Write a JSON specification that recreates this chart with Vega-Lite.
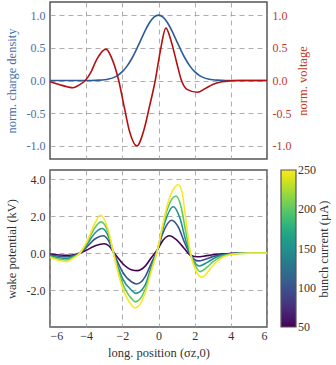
{
 "$schema": "https://vega.github.io/schema/vega-lite/v6.json",
 "padding": {"left": 4, "top": 1, "right": 2, "bottom": 4},
 "background": "white",
 "config": {
  "font": "Liberation Serif",
  "view": {"stroke": "#555", "strokeWidth": 1.5},
  "axis": {"labelFont": "Liberation Serif", "titleFont": "Liberation Serif", "labelFontSize": 12, "titleFontSize": 12.5, "titleFontWeight": "normal", "domain": false, "gridDash": [5, 4], "gridColor": "#999", "gridWidth": 0.8, "ticks": false, "labelPadding": 5, "labelColor": "#333", "titleColor": "#333", "titlePadding": 8},
  "legend": {"gradientLength": 157, "gradientThickness": 15, "titleOrient": "right", "titlePadding": 2, "offset": 10, "labelFont": "Liberation Serif", "titleFont": "Liberation Serif", "labelFontSize": 12, "titleFontSize": 12.5, "titleFontWeight": "normal", "gradientStrokeColor": "#555", "gradientStrokeWidth": 1.2, "labelColor": "#333", "titleColor": "#333", "labelOffset": 4},
  "concat": {"spacing": 9}
 },
 "resolve": {"legend": {"color": "independent"}},
 "datasets": {
  "rho": [
   {"x": -6, "y": 0}, {"x": -4.5, "y": 0}, {"x": -4, "y": 0.0003}, {"x": -3.75, "y": 0.0009}, {"x": -3.5, "y": 0.0022}, {"x": -3.25, "y": 0.0051}, {"x": -3, "y": 0.0111}, {"x": -2.75, "y": 0.0228}, {"x": -2.5, "y": 0.0439}, {"x": -2.25, "y": 0.0796}, {"x": -2, "y": 0.1353}, {"x": -1.75, "y": 0.2163}, {"x": -1.5, "y": 0.3247}, {"x": -1.25, "y": 0.4578}, {"x": -1, "y": 0.6065}, {"x": -0.75, "y": 0.7548}, {"x": -0.5, "y": 0.8825}, {"x": -0.25, "y": 0.9692}, {"x": 0, "y": 1},
   {"x": 0.25, "y": 0.9692}, {"x": 0.5, "y": 0.8825}, {"x": 0.75, "y": 0.7548}, {"x": 1, "y": 0.6065}, {"x": 1.25, "y": 0.4578}, {"x": 1.5, "y": 0.3247}, {"x": 1.75, "y": 0.2163}, {"x": 2, "y": 0.1353}, {"x": 2.25, "y": 0.0796}, {"x": 2.5, "y": 0.0439}, {"x": 2.75, "y": 0.0228}, {"x": 3, "y": 0.0111}, {"x": 3.25, "y": 0.0051}, {"x": 3.5, "y": 0.0022}, {"x": 3.75, "y": 0.0009}, {"x": 4, "y": 0.0003}, {"x": 4.5, "y": 0}, {"x": 6, "y": 0}
  ],
  "volt": [
   {"x": -6, "y": -0.02}, {"x": -5.5, "y": -0.06}, {"x": -5.0, "y": -0.1}, {"x": -4.73, "y": -0.11}, {"x": -4.4, "y": -0.07}, {"x": -4.05, "y": 0.0}, {"x": -3.75, "y": 0.12}, {"x": -3.4, "y": 0.33}, {"x": -2.9, "y": 0.48}, {"x": -2.6, "y": 0.35}, {"x": -2.2, "y": 0.0}, {"x": -1.9, "y": -0.4}, {"x": -1.6, "y": -0.78}, {"x": -1.2, "y": -1.0}, {"x": -0.8, "y": -0.75}, {"x": -0.5, "y": -0.4}, {"x": -0.18, "y": 0.0}, {"x": 0.1, "y": 0.45}, {"x": 0.41, "y": 0.8}, {"x": 0.7, "y": 0.6}, {"x": 1.0, "y": 0.28}, {"x": 1.27, "y": 0.0}, {"x": 1.6, "y": -0.14}, {"x": 2.15, "y": -0.18}, {"x": 2.6, "y": -0.12}, {"x": 3.0, "y": -0.06}, {"x": 3.5, "y": -0.02}, {"x": 4.0, "y": -0.005}, {"x": 4.5, "y": 0}, {"x": 6, "y": 0}
  ],
  "wake": [
   {"I": 50, "x": -6, "w": -0.05}, {"I": 50, "x": -5.5, "w": -0.1}, {"I": 50, "x": -5.0, "w": -0.12}, {"I": 50, "x": -4.7, "w": -0.09}, {"I": 50, "x": -4.35, "w": 0}, {"I": 50, "x": -4.0, "w": 0.15}, {"I": 50, "x": -3.5, "w": 0.4}, {"I": 50, "x": -3.0, "w": 0.51}, {"I": 50, "x": -2.75, "w": 0.4}, {"I": 50, "x": -2.5, "w": 0.08}, {"I": 50, "x": -2.25, "w": -0.25}, {"I": 50, "x": -2.0, "w": -0.55}, {"I": 50, "x": -1.5, "w": -0.9}, {"I": 50, "x": -1.17, "w": -0.95}, {"I": 50, "x": -0.75, "w": -0.72}, {"I": 50, "x": -0.4, "w": -0.25}, {"I": 50, "x": -0.05, "w": 0.2}, {"I": 50, "x": 0.25, "w": 0.7}, {"I": 50, "x": 0.6, "w": 0.94}, {"I": 50, "x": 1.0, "w": 0.72}, {"I": 50, "x": 1.4, "w": 0.28}, {"I": 50, "x": 1.8, "w": -0.13}, {"I": 50, "x": 2.15, "w": -0.2}, {"I": 50, "x": 2.6, "w": -0.15}, {"I": 50, "x": 3.0, "w": -0.09}, {"I": 50, "x": 3.5, "w": -0.04}, {"I": 50, "x": 4.0, "w": -0.015}, {"I": 50, "x": 4.5, "w": 0}, {"I": 50, "x": 6, "w": 0},
   {"I": 100, "x": -6, "w": -0.1}, {"I": 100, "x": -5.5, "w": -0.17}, {"I": 100, "x": -5.05, "w": -0.2}, {"I": 100, "x": -4.7, "w": -0.13}, {"I": 100, "x": -4.35, "w": 0}, {"I": 100, "x": -4.0, "w": 0.3}, {"I": 100, "x": -3.5, "w": 0.78}, {"I": 100, "x": -3.07, "w": 0.94}, {"I": 100, "x": -2.75, "w": 0.65}, {"I": 100, "x": -2.5, "w": 0.07}, {"I": 100, "x": -2.25, "w": -0.5}, {"I": 100, "x": -2.0, "w": -1.0}, {"I": 100, "x": -1.5, "w": -1.55}, {"I": 100, "x": -1.22, "w": -1.67}, {"I": 100, "x": -0.75, "w": -1.3}, {"I": 100, "x": -0.4, "w": -0.55}, {"I": 100, "x": -0.05, "w": 0.2}, {"I": 100, "x": 0.25, "w": 1.1}, {"I": 100, "x": 0.73, "w": 1.78}, {"I": 100, "x": 1.1, "w": 1.4}, {"I": 100, "x": 1.45, "w": 0.55}, {"I": 100, "x": 1.8, "w": -0.14}, {"I": 100, "x": 2.2, "w": -0.42}, {"I": 100, "x": 2.6, "w": -0.33}, {"I": 100, "x": 3.0, "w": -0.19}, {"I": 100, "x": 3.5, "w": -0.08}, {"I": 100, "x": 4.0, "w": -0.03}, {"I": 100, "x": 4.5, "w": 0}, {"I": 100, "x": 6, "w": 0},
   {"I": 150, "x": -6, "w": -0.14}, {"I": 150, "x": -5.5, "w": -0.25}, {"I": 150, "x": -5.05, "w": -0.29}, {"I": 150, "x": -4.7, "w": -0.18}, {"I": 150, "x": -4.35, "w": 0}, {"I": 150, "x": -4.0, "w": 0.4}, {"I": 150, "x": -3.5, "w": 1.1}, {"I": 150, "x": -3.12, "w": 1.33}, {"I": 150, "x": -2.75, "w": 0.85}, {"I": 150, "x": -2.5, "w": 0.06}, {"I": 150, "x": -2.25, "w": -0.7}, {"I": 150, "x": -2.0, "w": -1.35}, {"I": 150, "x": -1.5, "w": -2.0}, {"I": 150, "x": -1.25, "w": -2.18}, {"I": 150, "x": -0.75, "w": -1.75}, {"I": 150, "x": -0.4, "w": -0.75}, {"I": 150, "x": -0.05, "w": 0.2}, {"I": 150, "x": 0.25, "w": 1.35}, {"I": 150, "x": 0.82, "w": 2.51}, {"I": 150, "x": 1.2, "w": 1.85}, {"I": 150, "x": 1.5, "w": 0.7}, {"I": 150, "x": 1.8, "w": -0.15}, {"I": 150, "x": 2.25, "w": -0.7}, {"I": 150, "x": 2.7, "w": -0.5}, {"I": 150, "x": 3.0, "w": -0.32}, {"I": 150, "x": 3.5, "w": -0.12}, {"I": 150, "x": 4.0, "w": -0.04}, {"I": 150, "x": 4.5, "w": -0.01}, {"I": 150, "x": 5.0, "w": 0}, {"I": 150, "x": 6, "w": 0},
   {"I": 200, "x": -6, "w": -0.18}, {"I": 200, "x": -5.5, "w": -0.32}, {"I": 200, "x": -5.1, "w": -0.37}, {"I": 200, "x": -4.7, "w": -0.22}, {"I": 200, "x": -4.35, "w": 0}, {"I": 200, "x": -4.0, "w": 0.48}, {"I": 200, "x": -3.5, "w": 1.4}, {"I": 200, "x": -3.18, "w": 1.69}, {"I": 200, "x": -2.75, "w": 1.02}, {"I": 200, "x": -2.5, "w": 0.05}, {"I": 200, "x": -2.25, "w": -0.85}, {"I": 200, "x": -2.0, "w": -1.6}, {"I": 200, "x": -1.5, "w": -2.45}, {"I": 200, "x": -1.28, "w": -2.64}, {"I": 200, "x": -0.75, "w": -2.0}, {"I": 200, "x": -0.4, "w": -0.9}, {"I": 200, "x": -0.05, "w": 0.2}, {"I": 200, "x": 0.25, "w": 1.5}, {"I": 200, "x": 0.5, "w": 2.4}, {"I": 200, "x": 0.97, "w": 3.09}, {"I": 200, "x": 1.25, "w": 2.5}, {"I": 200, "x": 1.5, "w": 1.2}, {"I": 200, "x": 1.8, "w": -0.15}, {"I": 200, "x": 2.0, "w": -0.6}, {"I": 200, "x": 2.3, "w": -1.0}, {"I": 200, "x": 2.7, "w": -0.75}, {"I": 200, "x": 3.0, "w": -0.48}, {"I": 200, "x": 3.5, "w": -0.18}, {"I": 200, "x": 4.0, "w": -0.06}, {"I": 200, "x": 4.5, "w": -0.015}, {"I": 200, "x": 5.0, "w": 0}, {"I": 200, "x": 6, "w": 0},
   {"I": 250, "x": -6, "w": -0.22}, {"I": 250, "x": -5.5, "w": -0.4}, {"I": 250, "x": -5.1, "w": -0.46}, {"I": 250, "x": -4.7, "w": -0.27}, {"I": 250, "x": -4.35, "w": 0}, {"I": 250, "x": -4.0, "w": 0.55}, {"I": 250, "x": -3.5, "w": 1.65}, {"I": 250, "x": -3.23, "w": 2.05}, {"I": 250, "x": -2.75, "w": 1.15}, {"I": 250, "x": -2.5, "w": 0.05}, {"I": 250, "x": -2.25, "w": -1.0}, {"I": 250, "x": -2.0, "w": -1.85}, {"I": 250, "x": -1.5, "w": -2.8}, {"I": 250, "x": -1.3, "w": -2.97}, {"I": 250, "x": -0.75, "w": -2.2}, {"I": 250, "x": -0.4, "w": -1.0}, {"I": 250, "x": -0.05, "w": 0.2}, {"I": 250, "x": 0.25, "w": 1.6}, {"I": 250, "x": 0.5, "w": 2.65}, {"I": 250, "x": 0.8, "w": 3.42}, {"I": 250, "x": 1.1, "w": 3.7}, {"I": 250, "x": 1.3, "w": 3.3}, {"I": 250, "x": 1.5, "w": 1.9}, {"I": 250, "x": 1.8, "w": -0.15}, {"I": 250, "x": 2.0, "w": -0.8}, {"I": 250, "x": 2.4, "w": -1.3}, {"I": 250, "x": 2.75, "w": -1.0}, {"I": 250, "x": 3.0, "w": -0.68}, {"I": 250, "x": 3.5, "w": -0.25}, {"I": 250, "x": 4.0, "w": -0.08}, {"I": 250, "x": 4.5, "w": -0.02}, {"I": 250, "x": 5.0, "w": 0}, {"I": 250, "x": 6, "w": 0}
  ]
 },
 "vconcat": [
  {
   "width": 217, "height": 157,
   "layer": [
    {
     "data": {"name": "rho"},
     "mark": {"type": "line", "color": "#2d5b9a", "strokeWidth": 1.6, "interpolate": "monotone"},
     "encoding": {
      "x": {"field": "x", "type": "quantitative", "scale": {"domain": [-6, 6], "nice": false}, "axis": {"values": [-4, -2, 0, 2, 4], "labels": false, "title": null, "grid": true}},
      "y": {"field": "y", "type": "quantitative", "scale": {"domain": [-1.2, 1.2], "nice": false}, "axis": {"orient": "left", "values": [-1, -0.5, 0, 0.5, 1], "labelExpr": "replace(format(datum.value, '.1f'), '\u2212', '-')", "title": "norm. charge density", "labelColor": "#4a6fa5", "titleColor": "#4a6fa5", "grid": true}}
     }
    },
    {
     "data": {"name": "volt"},
     "mark": {"type": "line", "color": "#b50f0f", "strokeWidth": 1.6, "interpolate": "monotone"},
     "encoding": {
      "x": {"field": "x", "type": "quantitative", "scale": {"domain": [-6, 6], "nice": false}},
      "y": {"field": "y", "type": "quantitative", "scale": {"domain": [-1.2, 1.2], "nice": false}, "axis": {"orient": "right", "values": [-1, -0.5, 0, 0.5, 1], "labelExpr": "replace(format(datum.value, '.1f'), '\u2212', '-')", "title": "norm. voltage", "titleAngle": 270, "titleBaseline": "top", "titlePadding": 6, "labelColor": "#c0392b", "titleColor": "#c0392b", "grid": false}}
     }
    }
   ],
   "resolve": {"scale": {"y": "independent"}}
  },
  {
   "width": 217, "height": 157,
   "data": {"name": "wake"},
   "mark": {"type": "line", "strokeWidth": 1.6, "interpolate": "monotone"},
   "encoding": {
    "x": {"field": "x", "type": "quantitative", "scale": {"domain": [-6, 6], "nice": false}, "axis": {"values": [-6, -4, -2, 0, 2, 4, 6], "format": "d", "title": "long. position (σz,0)", "grid": true, "labelPadding": 3, "titlePadding": 5}},
    "y": {"field": "w", "type": "quantitative", "scale": {"domain": [-4, 4.5], "nice": false}, "axis": {"values": [-2, 0, 2, 4], "labelExpr": "replace(format(datum.value, '.1f'), '\u2212', '-')", "title": "wake potential (kV)", "grid": true}},
    "color": {"field": "I", "type": "quantitative", "scale": {"scheme": "viridis", "domain": [50, 250]}, "legend": {"title": "bunch current (µA)", "values": [50, 100, 150, 200, 250], "type": "gradient", "direction": "vertical", "encode": {"title": {"update": {"angle": {"value": 270}, "baseline": {"value": "top"}}}, "labels": {"update": {"baseline": {"value": "middle"}}}}}}
   }
  }
 ]
}
